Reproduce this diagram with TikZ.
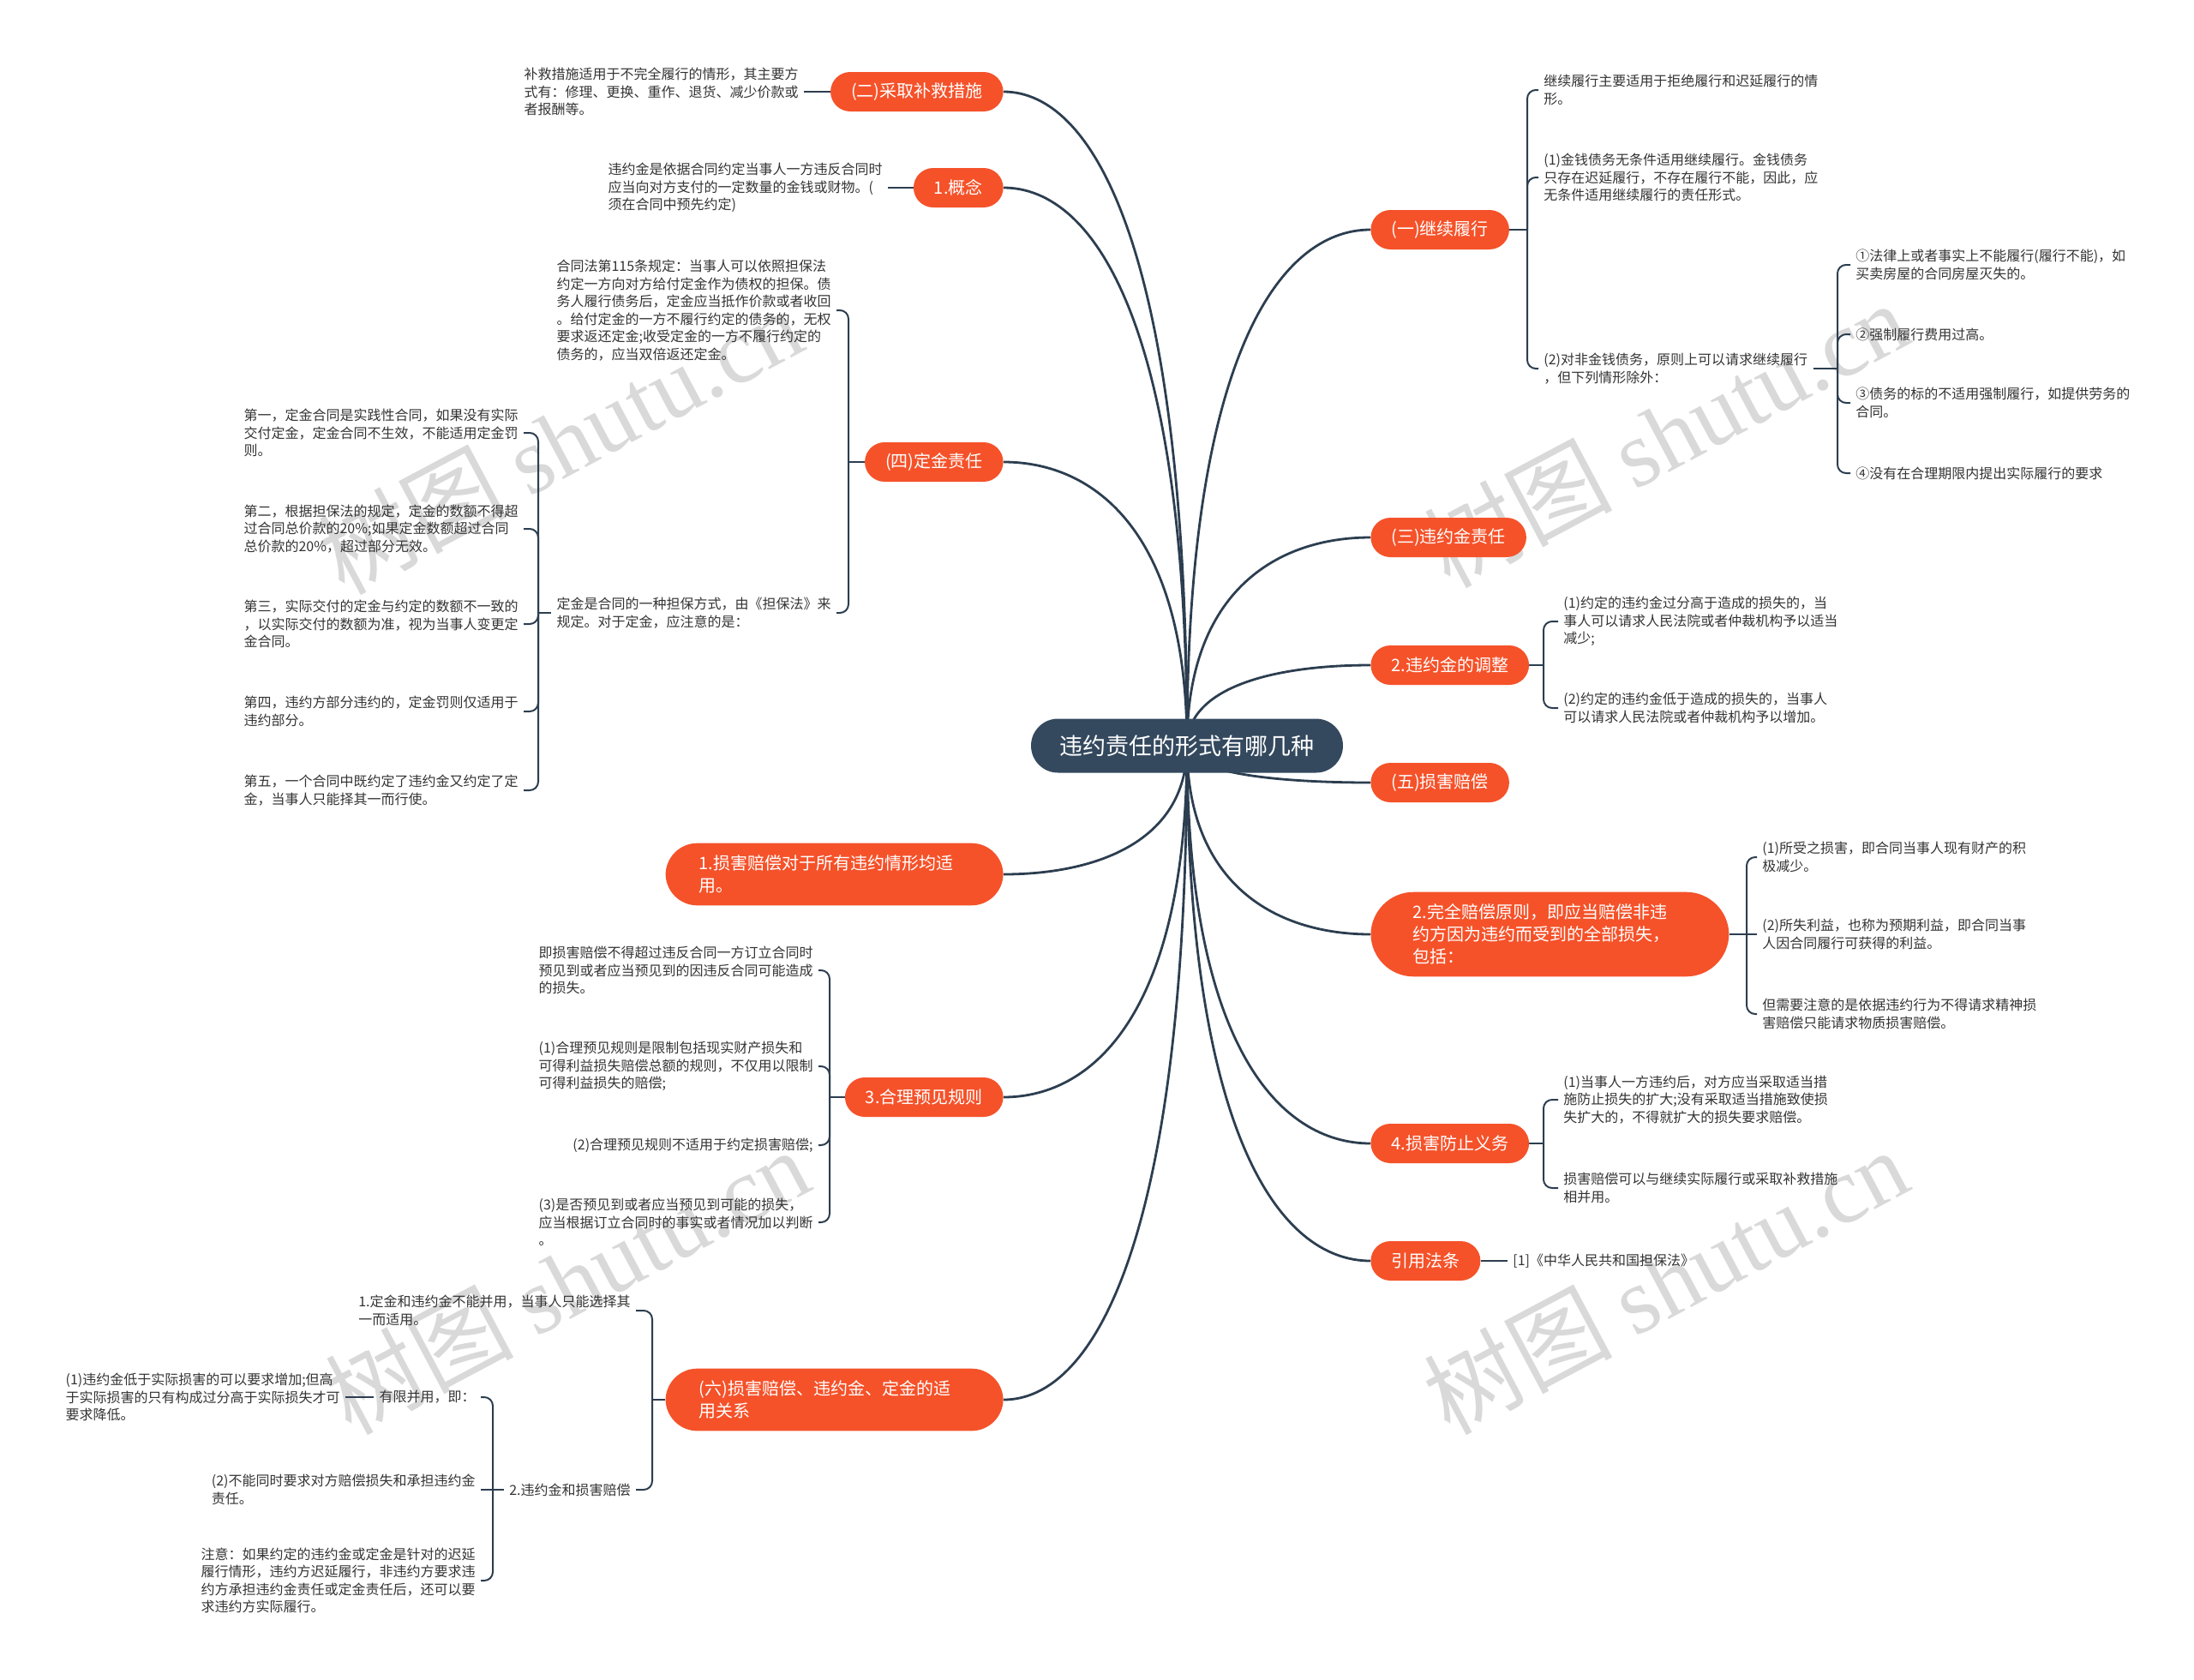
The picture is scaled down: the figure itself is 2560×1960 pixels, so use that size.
\documentclass[tikz,border=0pt]{standalone}
\usepackage{fontspec}
\setmainfont{Noto Sans CJK SC}
\newfontfamily\wmfont{Liberation Serif}
\usetikzlibrary{calc,backgrounds}
\definecolor{hubblue}{RGB}{52,73,94}
\definecolor{topicred}{RGB}{245,82,42}
\definecolor{linedark}{RGB}{44,62,80}
\definecolor{leafgray}{RGB}{51,51,51}
\tikzset{
  hubnode/.style={fill=hubblue, text=white, rounded corners=15.75pt, minimum height=31.5pt, inner xsep=16.75pt, inner ysep=0pt, font=\fontsize{13.5}{16}\selectfont},
  topic/.style={fill=topicred, text=white, rounded corners=11.5pt, minimum height=23pt, inner xsep=12pt, inner ysep=0pt, font=\fontsize{10}{13}\selectfont},
  topicwide/.style={topic, align=left, inner xsep=19.5pt, inner ysep=7pt, rounded corners=18.5pt},
  leaf/.style={text=leafgray, align=left, inner xsep=3pt, inner ysep=0pt, font=\fontsize{8}{10.25}\selectfont},
  trunk/.style={draw=linedark, line width=1.4pt, to path={.. controls ($(\tikztostart)!0.75!(\tikztostart|-\tikztotarget)$) and ($(\tikztotarget)!0.5!(\tikztostart|-\tikztotarget)$) .. (\tikztotarget)}},
  twig/.style={draw=linedark, line width=1pt, rounded corners=5pt},
  wmark/.style={text=black!15, rotate=28, font=\fontsize{55}{60}\selectfont}
}
\begin{document}
\begin{tikzpicture}[x=0.5pt, y=-0.5pt]
\useasboundingbox (0,0) rectangle (2560,1960);
% ---- watermark ----
\begin{scope}[on background layer]
\node[wmark] (wm1) at (653,514) {树图 {\wmfont shutu.cn}};
\node[wmark] (wm2) at (1943,506) {树图 {\wmfont shutu.cn}};
\node[wmark] (wm3) at (661,1494) {树图 {\wmfont shutu.cn}};
\node[wmark] (wm4) at (1943,1494) {树图 {\wmfont shutu.cn}};
\end{scope}
% ---- centre ----
\node[hubnode] (main) at (1385,870) {违约责任的形式有哪几种};
\coordinate (hub) at (1385,870);
% ---- left: (二), 1., (四) ----
\node[topic, anchor=east] (nRemedy) at (1171,107) {(二)采取补救措施};
\node[leaf, anchor=east] (tRemedy) at (938,107) {补救措施适用于不完全履行的情形，其主要方\\式有：修理、更换、重作、退货、减少价款或\\者报酬等。};
\node[topic, anchor=east] (nConcept) at (1171,219) {1.概念};
\node[leaf, anchor=east] (tConcept) at (1036,219) {违约金是依据合同约定当事人一方违反合同时\\应当向对方支付的一定数量的金钱或财物。(\\须在合同中预先约定)};
\node[topic, anchor=east] (nDeposit) at (1171,539) {(四)定金责任};
\node[leaf, anchor=east] (tDepLaw) at (976,362) {合同法第115条规定：当事人可以依照担保法\\约定一方向对方给付定金作为债权的担保。债\\务人履行债务后，定金应当抵作价款或者收回\\。给付定金的一方不履行约定的债务的，无权\\要求返还定金;收受定金的一方不履行约定的\\债务的，应当双倍返还定金。};
\node[leaf, anchor=east] (tDepForm) at (976,715) {定金是合同的一种担保方式，由《担保法》来\\规定。对于定金，应注意的是：};
\node[leaf, anchor=east] (tDep1) at (611,505) {第一，定金合同是实践性合同，如果没有实际\\交付定金，定金合同不生效，不能适用定金罚\\则。};
\node[leaf, anchor=east] (tDep2) at (611,617) {第二，根据担保法的规定，定金的数额不得超\\过合同总价款的20\%;如果定金数额超过合同\\总价款的20\%，超过部分无效。};
\node[leaf, anchor=east] (tDep3) at (611,728) {第三，实际交付的定金与约定的数额不一致的\\，以实际交付的数额为准，视为当事人变更定\\金合同。};
\node[leaf, anchor=east] (tDep4) at (611,830) {第四，违约方部分违约的，定金罚则仅适用于\\违约部分。};
\node[leaf, anchor=east] (tDep5) at (611,922) {第五，一个合同中既约定了违约金又约定了定\\金，当事人只能择其一而行使。};
% ---- left: 1., 3., (六) ----
\node[topicwide, anchor=east, text width=158pt] (nDamagesAll) at (1171,1020) {1.损害赔偿对于所有违约情形均适\\用。};
\node[topic, anchor=east] (nForesee) at (1171,1280) {3.合理预见规则};
\node[leaf, anchor=east] (tFore1) at (955,1132) {即损害赔偿不得超过违反合同一方订立合同时\\预见到或者应当预见到的因违反合同可能造成\\的损失。};
\node[leaf, anchor=east] (tFore2) at (955,1244) {(1)合理预见规则是限制包括现实财产损失和\\可得利益损失赔偿总额的规则，不仅用以限制\\可得利益损失的赔偿;};
\node[leaf, anchor=east] (tFore3) at (955,1336) {(2)合理预见规则不适用于约定损害赔偿;};
\node[leaf, anchor=east] (tFore4) at (955,1426) {(3)是否预见到或者应当预见到可能的损失，\\应当根据订立合同时的事实或者情况加以判断\\。};
\node[topicwide, anchor=east, text width=158pt] (nRelation) at (1171,1633) {(六)损害赔偿、违约金、定金的适\\用关系};
\node[leaf, anchor=east] (tRel1) at (742,1529) {1.定金和违约金不能并用，当事人只能选择其\\一而适用。};
\node[leaf, anchor=east] (tRel2) at (742,1738) {2.违约金和损害赔偿};
\node[leaf, anchor=east] (tLimited) at (561,1630) {有限并用，即：};
\node[leaf, anchor=east] (tLimitedDet) at (403,1630) {(1)违约金低于实际损害的可以要求增加;但高\\于实际损害的只有构成过分高于实际损失才可\\要求降低。};
\node[leaf, anchor=east] (tNoBoth) at (561,1738) {(2)不能同时要求对方赔偿损失和承担违约金\\责任。};
\node[leaf, anchor=east] (tNote) at (561,1844) {注意：如果约定的违约金或定金是针对的迟延\\履行情形，违约方迟延履行，非违约方要求违\\约方承担违约金责任或定金责任后，还可以要\\求违约方实际履行。};
% ---- right: (一), (三), 2., (五) ----
\node[topic, anchor=west] (nContinue) at (1599,268) {(一)继续履行};
\node[leaf, anchor=west] (tCont1) at (1795,105) {继续履行主要适用于拒绝履行和迟延履行的情\\形。};
\node[leaf, anchor=west] (tCont2) at (1795,207) {(1)金钱债务无条件适用继续履行。金钱债务\\只存在迟延履行，不存在履行不能，因此，应\\无条件适用继续履行的责任形式。};
\node[leaf, anchor=west] (tCont3) at (1795,430) {(2)对非金钱债务，原则上可以请求继续履行\\，但下列情形除外：};
\node[leaf, anchor=west] (tEx1) at (2159,309) {①法律上或者事实上不能履行(履行不能)，如\\买卖房屋的合同房屋灭失的。};
\node[leaf, anchor=west] (tEx2) at (2159,390) {②强制履行费用过高。};
\node[leaf, anchor=west] (tEx3) at (2159,470) {③债务的标的不适用强制履行，如提供劳务的\\合同。};
\node[leaf, anchor=west] (tEx4) at (2159,552) {④没有在合理期限内提出实际履行的要求};
\node[topic, anchor=west] (nPenalty) at (1599,627) {(三)违约金责任};
\node[topic, anchor=west] (nAdjust) at (1599,776) {2.违约金的调整};
\node[leaf, anchor=west] (tAdj1) at (1818,725) {(1)约定的违约金过分高于造成的损失的，当\\事人可以请求人民法院或者仲裁机构予以适当\\减少;};
\node[leaf, anchor=west] (tAdj2) at (1818,826) {(2)约定的违约金低于造成的损失的，当事人\\可以请求人民法院或者仲裁机构予以增加。};
\node[topic, anchor=west] (nCompensate) at (1599,913) {(五)损害赔偿};
% ---- right: 2., 4., 引用 ----
\node[topicwide, anchor=west, text width=160pt, inner xsep=24.5pt, rounded corners=25pt] (nFull) at (1599,1090) {2.完全赔偿原则，即应当赔偿非违\\约方因为违约而受到的全部损失，\\包括：};
\node[leaf, anchor=west] (tFull1) at (2050,1000) {(1)所受之损害，即合同当事人现有财产的积\\极减少。};
\node[leaf, anchor=west] (tFull2) at (2050,1090) {(2)所失利益，也称为预期利益，即合同当事\\人因合同履行可获得的利益。};
\node[leaf, anchor=west] (tFull3) at (2050,1183) {但需要注意的是依据违约行为不得请求精神损\\害赔偿只能请求物质损害赔偿。};
\node[topic, anchor=west] (nPrevent) at (1599,1334) {4.损害防止义务};
\node[leaf, anchor=west] (tPrev1) at (1818,1283) {(1)当事人一方违约后，对方应当采取适当措\\施防止损失的扩大;没有采取适当措施致使损\\失扩大的，不得就扩大的损失要求赔偿。};
\node[leaf, anchor=west] (tPrev2) at (1818,1386) {损害赔偿可以与继续实际履行或采取补救措施\\相并用。};
\node[topic, anchor=west] (nCite) at (1599,1471) {引用法条};
\node[leaf, anchor=west] (tCite) at (1759,1471) {[1]《中华人民共和国担保法》};
% ---- bracket junctions ----
\coordinate (jDeposit) at (990,539);
\coordinate (jDepForm) at (628,715);
\coordinate (jForesee) at (968,1280);
\coordinate (jRelation) at (761,1633);
\coordinate (jRel2) at (575,1738);
\coordinate (jContinue) at (1782,268);
\coordinate (jCont3) at (2144,430);
\coordinate (jAdjust) at (1801,776);
\coordinate (jFull) at (2038,1090);
\coordinate (jPrevent) at (1801,1334);
% ---- connectors ----
\begin{scope}[on background layer]
\foreach \n in {nRemedy,nConcept,nDeposit,nDamagesAll,nForesee,nRelation}
  \draw[trunk] (hub) to (\n.east);
\foreach \n in {nContinue,nPenalty,nAdjust,nCompensate,nFull,nPrevent,nCite}
  \draw[trunk] (hub) to (\n.west);
\draw[twig] (nRemedy.west) -- (tRemedy.east);
\draw[twig] (nConcept.west) -- (tConcept.east);
\draw[twig] (nDeposit.west) -- (jDeposit);
\foreach \ch in {tDepLaw,tDepForm} \draw[twig] (jDeposit) |- (\ch.east);
\draw[twig] (tDepForm.west) -- (jDepForm);
\foreach \ch in {tDep1,tDep2,tDep3,tDep4,tDep5} \draw[twig] (jDepForm) |- (\ch.east);
\draw[twig] (nForesee.west) -- (jForesee);
\foreach \ch in {tFore1,tFore2,tFore3,tFore4} \draw[twig] (jForesee) |- (\ch.east);
\draw[twig] (nRelation.west) -- (jRelation);
\foreach \ch in {tRel1,tRel2} \draw[twig] (jRelation) |- (\ch.east);
\draw[twig] (tRel2.west) -- (jRel2);
\foreach \ch in {tLimited,tNote} \draw[twig] (jRel2) |- (\ch.east);
\draw[twig] (jRel2) -- (tNoBoth.east);
\draw[twig] (tLimited.west) -- (tLimitedDet.east);
\draw[twig] (nContinue.east) -- (jContinue);
\foreach \ch in {tCont1,tCont2,tCont3} \draw[twig] (jContinue) |- (\ch.west);
\draw[twig] (tCont3.east) -- (jCont3);
\foreach \ch in {tEx1,tEx2,tEx3,tEx4} \draw[twig] (jCont3) |- (\ch.west);
\draw[twig] (nAdjust.east) -- (jAdjust);
\foreach \ch in {tAdj1,tAdj2} \draw[twig] (jAdjust) |- (\ch.west);
\draw[twig] (nFull.east) -- (jFull);
\foreach \ch in {tFull1,tFull3} \draw[twig] (jFull) |- (\ch.west);
\draw[twig] (jFull) -- (tFull2.west);
\draw[twig] (nPrevent.east) -- (jPrevent);
\foreach \ch in {tPrev1,tPrev2} \draw[twig] (jPrevent) |- (\ch.west);
\draw[twig] (nCite.east) -- (tCite.west);
\end{scope}
\end{tikzpicture}
\end{document}
